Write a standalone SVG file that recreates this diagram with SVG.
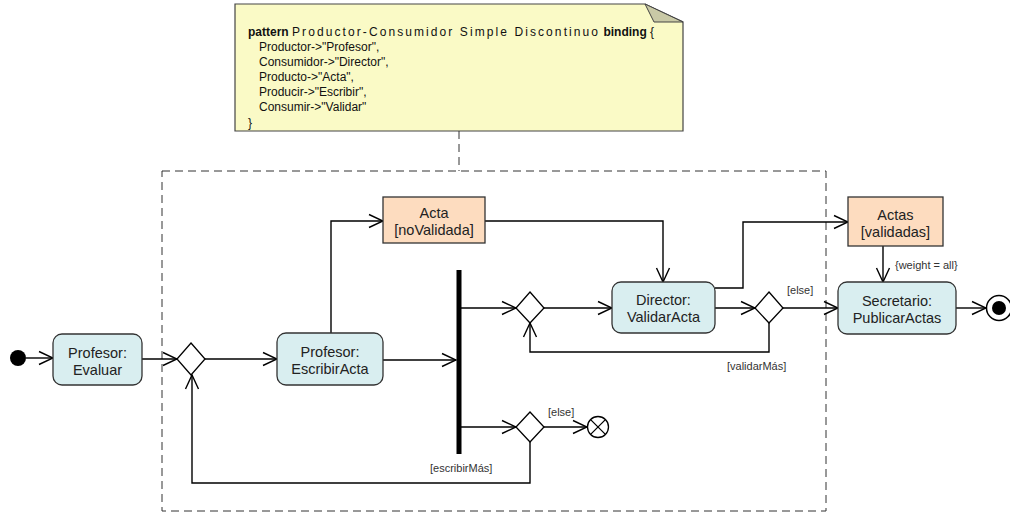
<svg xmlns="http://www.w3.org/2000/svg" width="1010" height="515" viewBox="0 0 1010 515">
  <style>
    .act { fill: #d9eef0; stroke: #333; stroke-width: 1.3; }
    .obj { fill: #fddcbf; stroke: #333; stroke-width: 1.3; }
    .dec { fill: #ffffff; stroke: #000; stroke-width: 1.3; }
    .lbl { font-family: "Liberation Sans", Arial, sans-serif; font-size: 14.5px; fill: #222; text-anchor: middle; }
    .guard { font-family: "Liberation Sans", Arial, sans-serif; font-size: 11px; fill: #333; }
    .note { font-family: "Liberation Sans", Arial, sans-serif; font-size: 12px; fill: #111; }
    .flow { fill: none; stroke: #000; stroke-width: 1.4; marker-end: url(#open); }
    .dash { fill: none; stroke: #333; stroke-width: 1; stroke-dasharray: 8 5; }
  </style>
  <defs>
    <marker id="open" markerUnits="userSpaceOnUse" markerWidth="16" markerHeight="16" viewBox="0 0 16 16" refX="15" refY="8" orient="auto">
      <path d="M1,1.5 L15,8 L1,14.5" fill="none" stroke="#000" stroke-width="1.4"/>
    </marker>
  </defs>

  <rect width="1010" height="515" fill="#ffffff"/>

  <!-- binding note and its anchor -->
  <g id="note">
    <path d="M235,4 H645 L683,22 V131 H235 Z" fill="#fafac6" stroke="#444" stroke-width="1.2"/>
    <path d="M645,4 L654,22 L683,22 Z" fill="#c9c9a6" stroke="#444" stroke-width="1"/>
    <text class="note" x="248" y="36"><tspan font-weight="bold">pattern</tspan> <tspan textLength="306" lengthAdjust="spacing">Productor-Consumidor Simple Discontinuo</tspan> <tspan font-weight="bold">binding</tspan> {</text>
    <text class="note" x="259" y="51">Productor-&gt;"Profesor",</text>
    <text class="note" x="259" y="66">Consumidor-&gt;"Director",</text>
    <text class="note" x="259" y="81">Producto-&gt;"Acta",</text>
    <text class="note" x="259" y="96">Producir-&gt;"Escribir",</text>
    <text class="note" x="259" y="111">Consumir-&gt;"Validar"</text>
    <text class="note" x="248" y="127">}</text>
  </g>
  <path class="dash" d="M459,131 V171"/>

  <!-- pattern region -->
  <rect id="region" class="dash" x="162" y="171" width="664" height="340"/>

  <!-- connectors -->
  <g id="connectors">
    <path class="flow" d="M26,358 H53"/>
    <path class="flow" d="M142,359 H177"/>
    <path class="flow" d="M205,359 H277"/>
    <path class="flow" d="M331,333 V221 H383"/>
    <path class="flow" d="M383,360 H456"/>
    <path class="flow" d="M461,308 H516"/>
    <path class="flow" d="M543,308 H612"/>
    <path class="flow" d="M485,221 H663 V282"/>
    <path class="flow" d="M715,288 H743 V222 H848"/>
    <path class="flow" d="M715,308 H755"/>
    <path class="flow" d="M783,308 H838"/>
    <path class="flow" d="M769,323 V352 H530 V323"/>
    <path class="flow" d="M883,246 V282"/>
    <path class="flow" d="M956,308 H986"/>
    <path class="flow" d="M461,427 H516"/>
    <path class="flow" d="M543,427 H587"/>
    <path class="flow" d="M530,442 V483 H192 V375"/>
    <text class="guard" x="787" y="294">[else]</text>
    <text class="guard" x="727" y="370">[validarMás]</text>
    <text class="guard" x="895" y="269">{weight = all}</text>
    <text class="guard" x="548" y="416">[else]</text>
    <text class="guard" x="430" y="472">[escribirMás]</text>
  </g>

  <g id="initial">
    <circle cx="18" cy="358" r="8" fill="#000"/>
  </g>

  <g id="evaluar">
    <rect class="act" x="53" y="334" width="89" height="51" rx="9"/>
    <text class="lbl" x="97.5" y="358">Profesor:</text>
    <text class="lbl" x="97.5" y="375">Evaluar</text>
  </g>

  <g id="decision1">
    <path class="dec" d="M191,343 L205,359 L191,375 L177,359 Z"/>
  </g>

  <g id="escribirActa">
    <rect class="act" x="277" y="333" width="106" height="52" rx="9"/>
    <text class="lbl" x="330" y="357">Profesor:</text>
    <text class="lbl" x="330" y="374">EscribirActa</text>
  </g>

  <g id="actaNoValidada">
    <rect class="obj" x="383" y="197" width="102" height="46"/>
    <text class="lbl" x="434" y="218">Acta</text>
    <text class="lbl" x="434" y="235">[noValidada]</text>
  </g>

  <g id="fork">
    <rect x="456.5" y="270" width="5" height="184" fill="#000"/>
  </g>

  <g id="decision2">
    <path class="dec" d="M530,292 L544,308 L530,323 L516,308 Z"/>
  </g>

  <g id="validarActa">
    <rect class="act" x="612" y="282" width="103" height="51" rx="9"/>
    <text class="lbl" x="663.5" y="305">Director:</text>
    <text class="lbl" x="663.5" y="322">ValidarActa</text>
  </g>

  <g id="decision3">
    <path class="dec" d="M769,292 L783,308 L769,323 L755,308 Z"/>
  </g>

  <g id="actasValidadas">
    <rect class="obj" x="848" y="197" width="95" height="49"/>
    <text class="lbl" x="895.5" y="220">Actas</text>
    <text class="lbl" x="895.5" y="237">[validadas]</text>
  </g>

  <g id="publicarActas">
    <rect class="act" x="838" y="282" width="118" height="52" rx="9"/>
    <text class="lbl" x="897" y="306">Secretario:</text>
    <text class="lbl" x="897" y="323">PublicarActas</text>
  </g>

  <g id="final">
    <circle cx="999" cy="308" r="12.5" fill="#fff" stroke="#000" stroke-width="1.5"/>
    <circle cx="999" cy="308" r="7" fill="#000"/>
  </g>

  <g id="decision4">
    <path class="dec" d="M530,412 L544,427 L530,442 L516,427 Z"/>
  </g>

  <g id="flowFinal">
    <circle cx="598" cy="427" r="10.5" fill="#fff" stroke="#000" stroke-width="1.3"/>
    <path d="M590.6,419.6 L605.4,434.4 M605.4,419.6 L590.6,434.4" stroke="#000" stroke-width="1.3"/>
  </g>
</svg>
